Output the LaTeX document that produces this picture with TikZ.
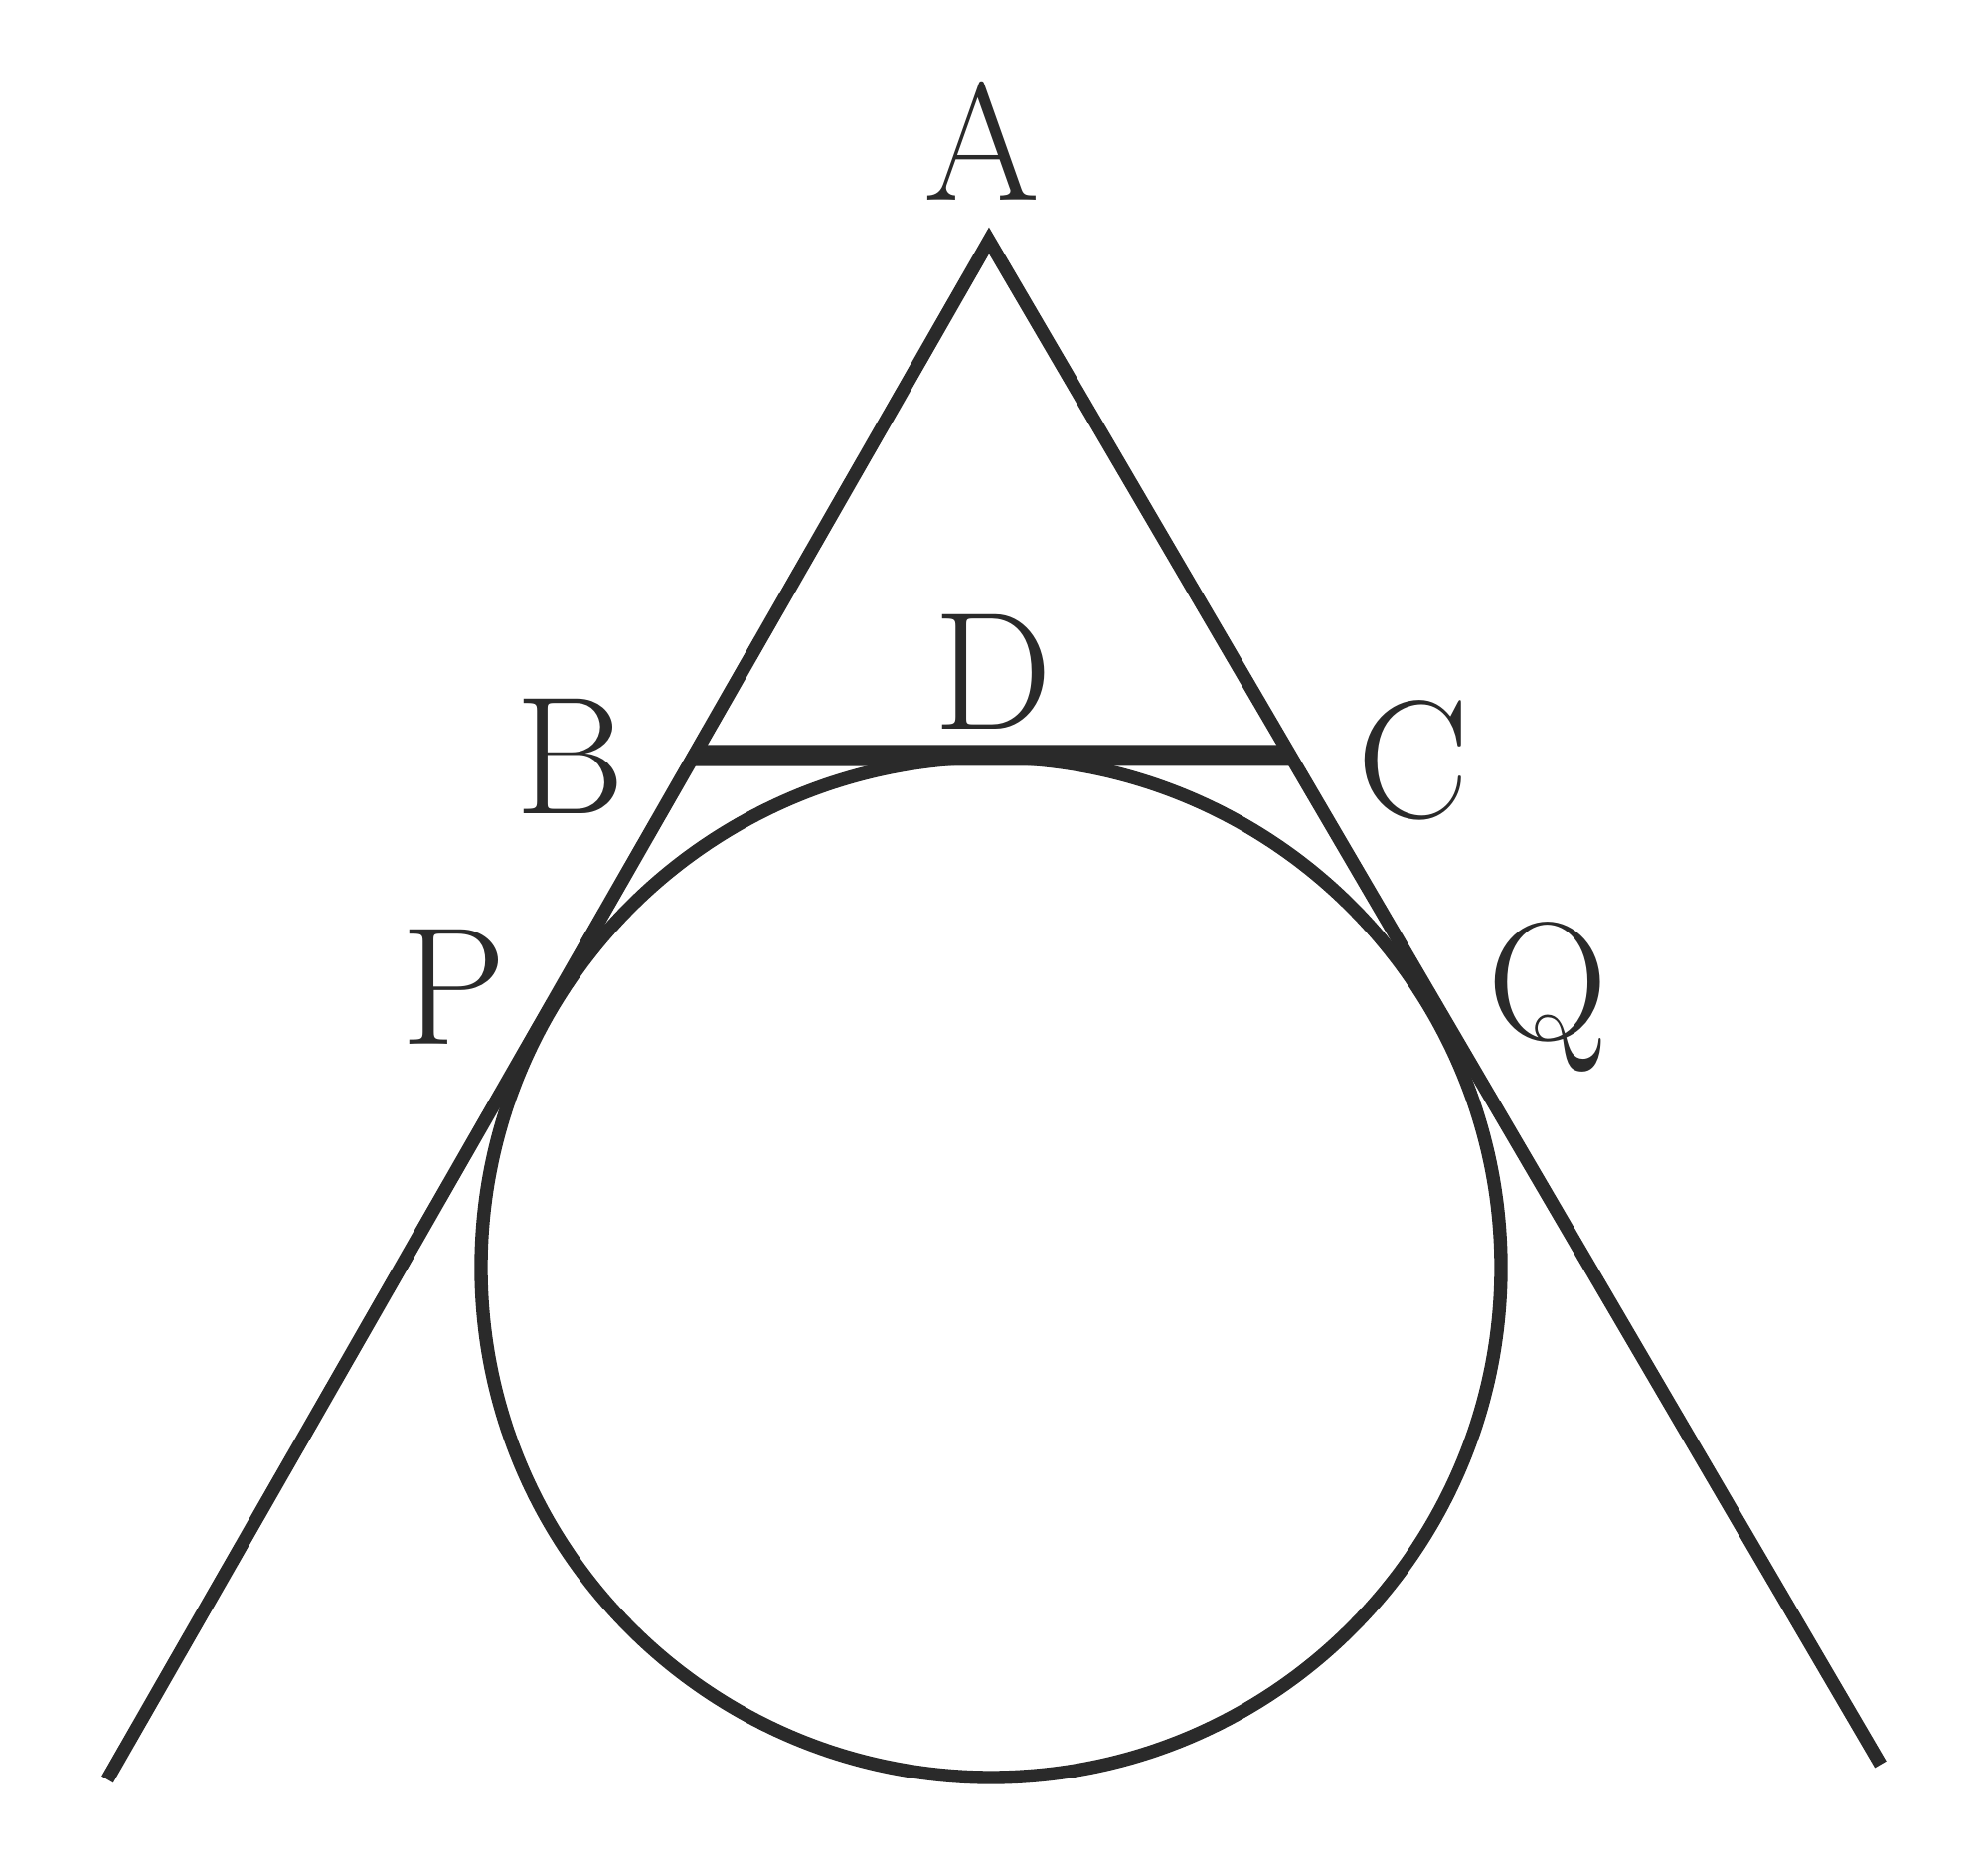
\documentclass[tikz,border=0pt]{standalone}
\definecolor{ink}{HTML}{2A2A2A}
\begin{document}
\begin{tikzpicture}[line width=3.8pt, draw=ink, text=ink,
    every node/.style={font=\fontsize{48}{58}\selectfont}]
  \useasboundingbox (0,0) rectangle (20,18.73);
  \coordinate (apex) at (9.95,16.31);
  \coordinate (left) at (1.08,0.83);
  \coordinate (right) at (18.92,0.98);
  \coordinate (O) at (9.97,5.98);
  \coordinate (b) at (intersection of apex--left and 0,11.13--1,11.13);
  \coordinate (c) at (intersection of apex--right and 0,11.13--1,11.13);
  \draw
    (9.88,17.31) node (A){A}
    (5.74,11.12) node (B){B}
    (14.22,11.08) node (C){C}
    (9.99,11.97) node (D){D}
    (4.56,8.80) node (P){P}
    (15.57,8.70) node (Q){Q};
  \draw (left) -- (apex) -- (right);
  \draw (O) circle (5.13);
  \draw[line width=6pt] (b) -- (c);
\end{tikzpicture}
\end{document}
